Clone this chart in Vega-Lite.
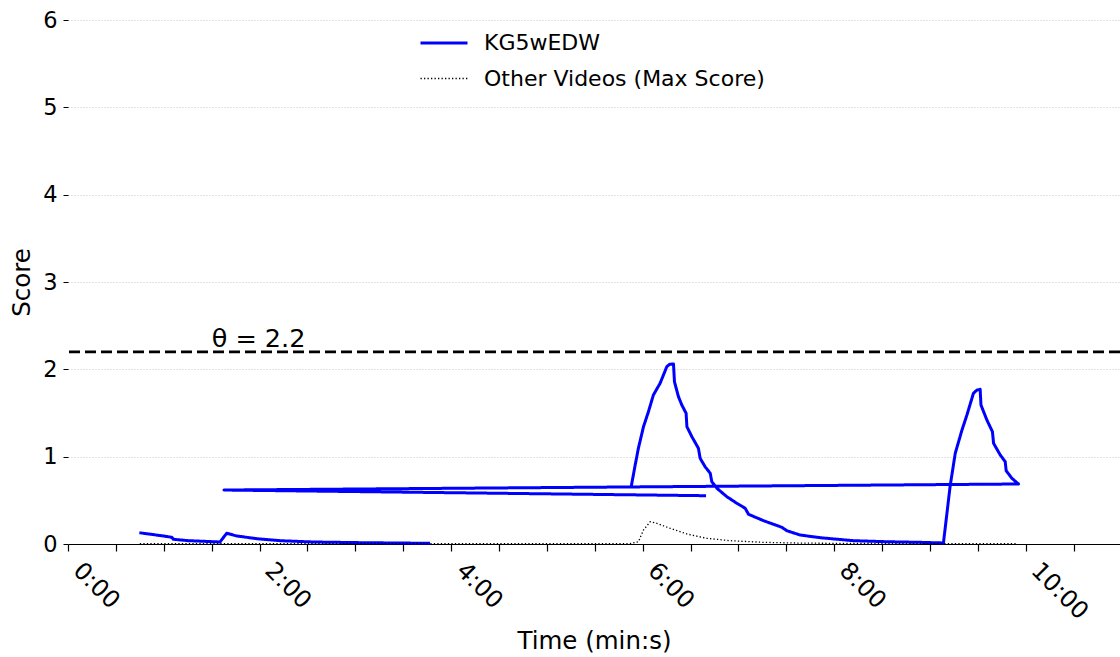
{
  "$schema": "https://vega.github.io/schema/vega-lite/v6.json",
  "width": 1052,
  "height": 524,
  "autosize": {"type": "none"},
  "padding": {"left": 68, "top": 20, "right": 0, "bottom": 113},
  "background": "white",
  "config": {
    "view": {"stroke": null},
    "font": "DejaVu Sans",
    "text": {"font": "DejaVu Sans"}
  },
  "datasets": {
    "scores": [
      {"series": "KG5wEDW", "seg": "a", "ord": 1, "t": 44.7, "s": 0.129},
      {"series": "KG5wEDW", "seg": "a", "ord": 2, "t": 59.7, "s": 0.092},
      {"series": "KG5wEDW", "seg": "a", "ord": 3, "t": 65.0, "s": 0.077},
      {"series": "KG5wEDW", "seg": "a", "ord": 4, "t": 66.0, "s": 0.054},
      {"series": "KG5wEDW", "seg": "a", "ord": 5, "t": 75.4, "s": 0.038},
      {"series": "KG5wEDW", "seg": "a", "ord": 6, "t": 95.2, "s": 0.023},
      {"series": "KG5wEDW", "seg": "a", "ord": 7, "t": 99.4, "s": 0.123},
      {"series": "KG5wEDW", "seg": "a", "ord": 8, "t": 105.7, "s": 0.092},
      {"series": "KG5wEDW", "seg": "a", "ord": 9, "t": 118.2, "s": 0.061},
      {"series": "KG5wEDW", "seg": "a", "ord": 10, "t": 132.8, "s": 0.038},
      {"series": "KG5wEDW", "seg": "a", "ord": 11, "t": 153.7, "s": 0.023},
      {"series": "KG5wEDW", "seg": "a", "ord": 12, "t": 185.0, "s": 0.015},
      {"series": "KG5wEDW", "seg": "a", "ord": 13, "t": 226.8, "s": 0.008},
      {"series": "KG5wEDW", "seg": "b", "ord": 1, "t": 352.8, "s": 0.656},
      {"series": "KG5wEDW", "seg": "b", "ord": 2, "t": 355.3, "s": 0.905},
      {"series": "KG5wEDW", "seg": "b", "ord": 3, "t": 357.3, "s": 1.096},
      {"series": "KG5wEDW", "seg": "b", "ord": 4, "t": 360.5, "s": 1.343},
      {"series": "KG5wEDW", "seg": "b", "ord": 5, "t": 363.6, "s": 1.515},
      {"series": "KG5wEDW", "seg": "b", "ord": 6, "t": 366.7, "s": 1.706},
      {"series": "KG5wEDW", "seg": "b", "ord": 7, "t": 370.9, "s": 1.840},
      {"series": "KG5wEDW", "seg": "b", "ord": 8, "t": 375.1, "s": 2.030},
      {"series": "KG5wEDW", "seg": "b", "ord": 9, "t": 376.8, "s": 2.058},
      {"series": "KG5wEDW", "seg": "b", "ord": 10, "t": 379.3, "s": 2.061},
      {"series": "KG5wEDW", "seg": "b", "ord": 11, "t": 379.9, "s": 1.858},
      {"series": "KG5wEDW", "seg": "b", "ord": 12, "t": 382.4, "s": 1.687},
      {"series": "KG5wEDW", "seg": "b", "ord": 13, "t": 384.5, "s": 1.592},
      {"series": "KG5wEDW", "seg": "b", "ord": 14, "t": 387.2, "s": 1.497},
      {"series": "KG5wEDW", "seg": "b", "ord": 15, "t": 387.7, "s": 1.343},
      {"series": "KG5wEDW", "seg": "b", "ord": 16, "t": 390.8, "s": 1.229},
      {"series": "KG5wEDW", "seg": "b", "ord": 17, "t": 394.9, "s": 1.096},
      {"series": "KG5wEDW", "seg": "b", "ord": 18, "t": 396.0, "s": 0.981},
      {"series": "KG5wEDW", "seg": "b", "ord": 19, "t": 399.1, "s": 0.885},
      {"series": "KG5wEDW", "seg": "b", "ord": 20, "t": 402.3, "s": 0.810},
      {"series": "KG5wEDW", "seg": "b", "ord": 21, "t": 403.3, "s": 0.713},
      {"series": "KG5wEDW", "seg": "b", "ord": 22, "t": 406.5, "s": 0.638},
      {"series": "KG5wEDW", "seg": "b", "ord": 23, "t": 412.7, "s": 0.542},
      {"series": "KG5wEDW", "seg": "b", "ord": 24, "t": 419.0, "s": 0.466},
      {"series": "KG5wEDW", "seg": "b", "ord": 25, "t": 424.2, "s": 0.409},
      {"series": "KG5wEDW", "seg": "b", "ord": 26, "t": 426.3, "s": 0.340},
      {"series": "KG5wEDW", "seg": "b", "ord": 27, "t": 435.7, "s": 0.267},
      {"series": "KG5wEDW", "seg": "b", "ord": 28, "t": 447.2, "s": 0.191},
      {"series": "KG5wEDW", "seg": "b", "ord": 29, "t": 450.3, "s": 0.152},
      {"series": "KG5wEDW", "seg": "b", "ord": 30, "t": 458.6, "s": 0.103},
      {"series": "KG5wEDW", "seg": "b", "ord": 31, "t": 471.2, "s": 0.072},
      {"series": "KG5wEDW", "seg": "b", "ord": 32, "t": 492.0, "s": 0.038},
      {"series": "KG5wEDW", "seg": "b", "ord": 33, "t": 513.0, "s": 0.026},
      {"series": "KG5wEDW", "seg": "b", "ord": 34, "t": 533.8, "s": 0.019},
      {"series": "KG5wEDW", "seg": "b", "ord": 35, "t": 548.4, "s": 0.012},
      {"series": "KG5wEDW", "seg": "b", "ord": 36, "t": 552.6, "s": 0.664},
      {"series": "KG5wEDW", "seg": "b", "ord": 37, "t": 555.8, "s": 1.039},
      {"series": "KG5wEDW", "seg": "b", "ord": 38, "t": 560.0, "s": 1.305},
      {"series": "KG5wEDW", "seg": "b", "ord": 39, "t": 563.1, "s": 1.477},
      {"series": "KG5wEDW", "seg": "b", "ord": 40, "t": 567.2, "s": 1.726},
      {"series": "KG5wEDW", "seg": "b", "ord": 41, "t": 569.4, "s": 1.763},
      {"series": "KG5wEDW", "seg": "b", "ord": 42, "t": 571.4, "s": 1.771},
      {"series": "KG5wEDW", "seg": "b", "ord": 43, "t": 571.9, "s": 1.592},
      {"series": "KG5wEDW", "seg": "b", "ord": 44, "t": 575.6, "s": 1.420},
      {"series": "KG5wEDW", "seg": "b", "ord": 45, "t": 579.1, "s": 1.286},
      {"series": "KG5wEDW", "seg": "b", "ord": 46, "t": 579.8, "s": 1.153},
      {"series": "KG5wEDW", "seg": "b", "ord": 47, "t": 584.0, "s": 1.019},
      {"series": "KG5wEDW", "seg": "b", "ord": 48, "t": 587.1, "s": 0.942},
      {"series": "KG5wEDW", "seg": "b", "ord": 49, "t": 587.7, "s": 0.839},
      {"series": "KG5wEDW", "seg": "b", "ord": 50, "t": 591.3, "s": 0.752},
      {"series": "KG5wEDW", "seg": "b", "ord": 51, "t": 595.4, "s": 0.687},
      {"series": "KG5wEDW", "seg": "b", "ord": 52, "t": 97.7, "s": 0.618},
      {"series": "KG5wEDW", "seg": "b", "ord": 53, "t": 399.7, "s": 0.553},
      {"series": "Other Videos (Max Score)", "seg": "c", "ord": 1, "t": 45.0, "s": 0.003},
      {"series": "Other Videos (Max Score)", "seg": "c", "ord": 2, "t": 352.0, "s": 0.003},
      {"series": "Other Videos (Max Score)", "seg": "c", "ord": 3, "t": 357.3, "s": 0.026},
      {"series": "Other Videos (Max Score)", "seg": "c", "ord": 4, "t": 360.5, "s": 0.160},
      {"series": "Other Videos (Max Score)", "seg": "c", "ord": 5, "t": 364.7, "s": 0.255},
      {"series": "Other Videos (Max Score)", "seg": "c", "ord": 6, "t": 368.9, "s": 0.237},
      {"series": "Other Videos (Max Score)", "seg": "c", "ord": 7, "t": 377.2, "s": 0.180},
      {"series": "Other Videos (Max Score)", "seg": "c", "ord": 8, "t": 387.7, "s": 0.115},
      {"series": "Other Videos (Max Score)", "seg": "c", "ord": 9, "t": 400.2, "s": 0.065},
      {"series": "Other Videos (Max Score)", "seg": "c", "ord": 10, "t": 414.8, "s": 0.038},
      {"series": "Other Videos (Max Score)", "seg": "c", "ord": 11, "t": 435.7, "s": 0.019},
      {"series": "Other Videos (Max Score)", "seg": "c", "ord": 12, "t": 456.6, "s": 0.011},
      {"series": "Other Videos (Max Score)", "seg": "c", "ord": 13, "t": 490.0, "s": 0.006},
      {"series": "Other Videos (Max Score)", "seg": "c", "ord": 14, "t": 594.6, "s": 0.003}
    ],
    "threshold": [
      {"theta": 2.2, "label": "θ = 2.2", "labelTime": 90}
    ]
  },
  "layer": [
    {
      "data": {"name": "scores"},
      "mark": {"type": "line", "strokeJoin": "round", "strokeCap": "butt"},
      "encoding": {
        "x": {
          "field": "t",
          "type": "quantitative",
          "title": "Time (min:s)",
          "scale": {"domain": [0, 659], "nice": false, "zero": false},
          "axis": {
            "values": [0, 30, 60, 90, 120, 150, 180, 210, 240, 270, 300, 330, 360, 390, 420, 450, 480, 510, 540, 570, 600, 630],
            "labelExpr": "datum.value % 120 === 0 ? floor(datum.value / 60) + ':00' : ''",
            "labelAngle": 45,
            "labelAlign": "left",
            "labelBaseline": "top",
            "labelFontSize": 24,
            "labelPadding": 7,
            "labelOffset": 17,
            "labelColor": "black",
            "labelOverlap": false,
            "labelFlush": false,
            "labelBound": false,
            "tickSize": 7,
            "tickColor": "black",
            "tickWidth": 1.2,
            "domainColor": "black",
            "domainWidth": 1.2,
            "grid": false,
            "titleFontSize": 24.5,
            "titleFontWeight": "normal",
            "titleColor": "black",
            "titlePadding": 6,
            "encode": {"ticks": {"update": {"y2": {"signal": "datum.value % 120 === 0 ? 7 : 3.5"}}}}
          }
        },
        "y": {
          "field": "s",
          "type": "quantitative",
          "title": "Score",
          "scale": {"domain": [0, 6], "nice": false},
          "axis": {
            "values": [0, 1, 2, 3, 4, 5, 6],
            "format": "d",
            "domain": false,
            "tickSize": 5,
            "tickColor": "black",
            "tickWidth": 1,
            "grid": true,
            "gridDash": [1, 2],
            "gridColor": "#b8b8b8",
            "gridWidth": 0.8,
            "labelFontSize": 22.5,
            "labelPadding": 6,
            "labelColor": "black",
            "titleFontSize": 24.5,
            "titleFontWeight": "normal",
            "titleColor": "black",
            "titlePadding": 8
          }
        },
        "color": {
          "field": "series",
          "type": "nominal",
          "scale": {"domain": ["KG5wEDW", "Other Videos (Max Score)"], "range": ["#0000ff", "#000000"]},
          "legend": {
            "title": null,
            "orient": "none",
            "legendX": 351,
            "legendY": -2,
            "symbolType": "stroke",
            "symbolSize": 2209,
            "labelFontSize": 22,
            "labelColor": "black",
            "labelOffset": 15,
            "labelLimit": 0,
            "rowPadding": 0,
            "padding": 0
          }
        },
        "strokeDash": {
          "field": "series",
          "type": "nominal",
          "scale": {"domain": ["KG5wEDW", "Other Videos (Max Score)"], "range": [[1, 0], [1.3, 2.2]]}
        },
        "strokeWidth": {
          "field": "series",
          "type": "nominal",
          "scale": {"domain": ["KG5wEDW", "Other Videos (Max Score)"], "range": [3, 1.3]}
        },
        "detail": {"field": "seg"},
        "order": {"field": "ord", "type": "quantitative"}
      }
    },
    {
      "data": {"name": "threshold"},
      "mark": {"type": "rule", "color": "black", "strokeWidth": 2.6, "strokeDash": [11, 5]},
      "encoding": {"y": {"field": "theta", "type": "quantitative"}}
    },
    {
      "data": {"name": "threshold"},
      "mark": {"type": "text", "align": "left", "baseline": "alphabetic", "dy": -5, "fontSize": 25.5, "color": "black"},
      "encoding": {
        "x": {"field": "labelTime", "type": "quantitative"},
        "y": {"field": "theta", "type": "quantitative"},
        "text": {"field": "label"}
      }
    }
  ]
}
